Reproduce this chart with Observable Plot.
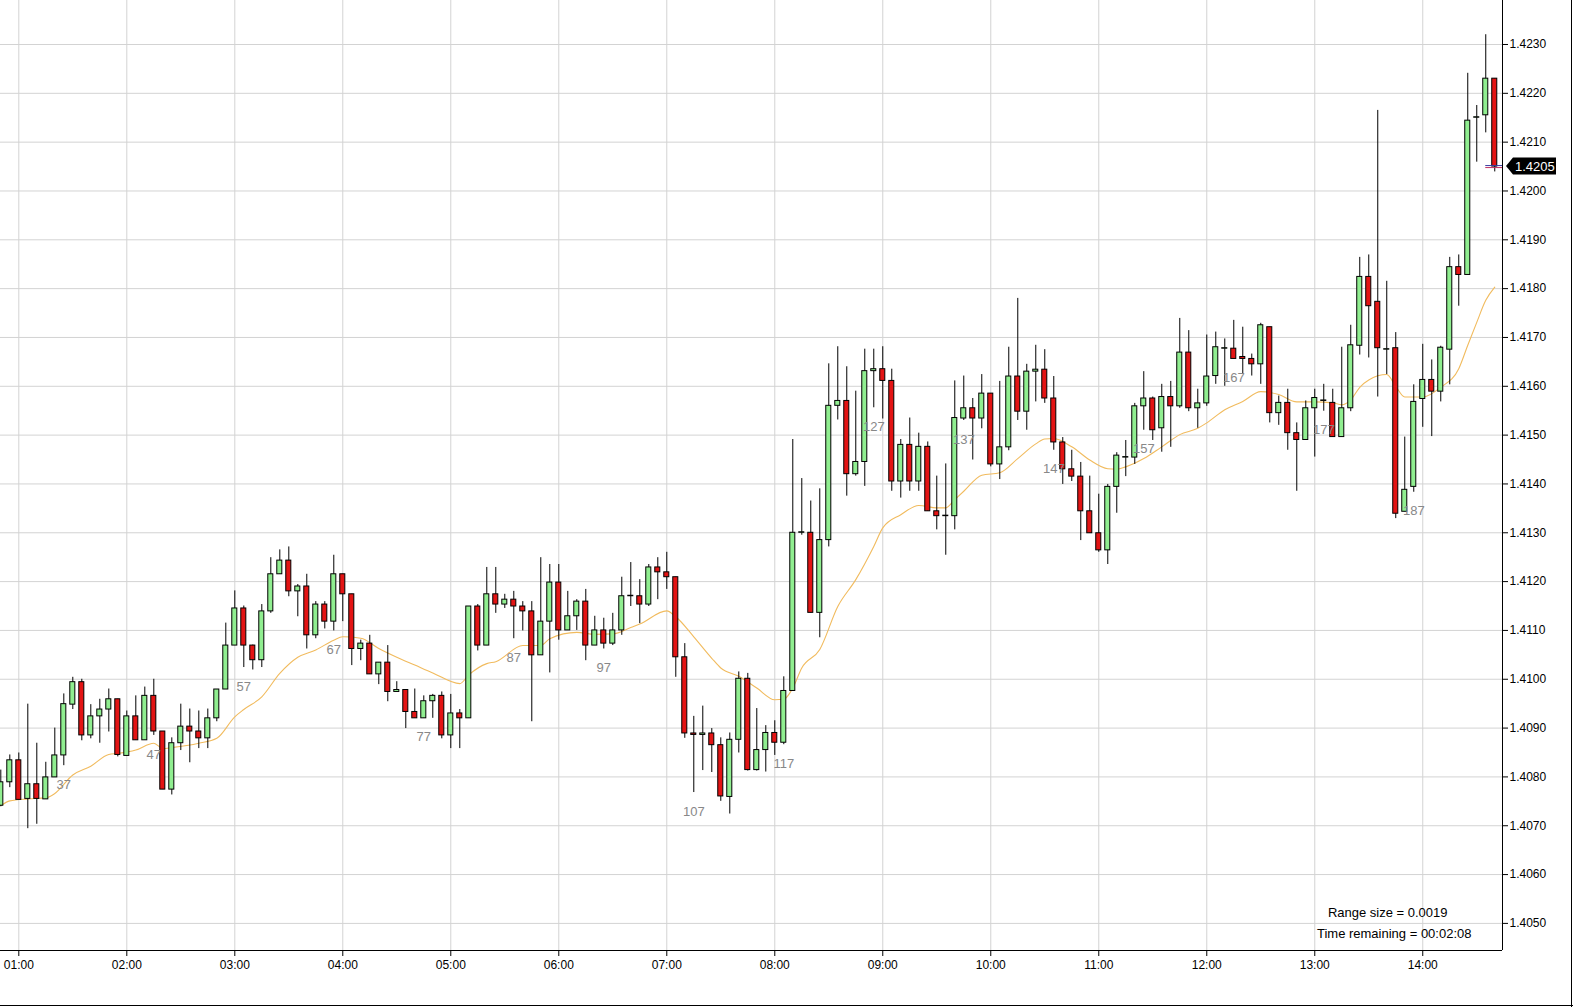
<!DOCTYPE html>
<html><head><meta charset="utf-8">
<script src="https://cdn.jsdelivr.net/npm/d3@7"></script>
<script src="https://cdn.jsdelivr.net/npm/@observablehq/plot@0.6"></script>
<style>
html,body{margin:0;padding:0;background:#fff;overflow:hidden}
#chart svg{display:block}
</style></head><body><div id="chart"></div>
<script>
// ---- data: 5-minute candles, bar #30 (00:50) to bar #196 (14:40) ----
const firstBarNumber = 30;
const firstBarMinute = 50;
const barMinutes = 5;

const open = [
1.40741,1.40789,1.40834,1.40755,1.40785,1.40754,1.40799,1.40844,1.40948,1.40994,
1.40885,1.40924,1.40938,1.40959,1.40843,1.40924,1.40875,1.40966,1.40893,1.40774,
1.40869,1.40903,1.40893,1.40879,1.40920,1.40979,1.41069,1.41145,1.41069,1.41039,
1.41139,1.41215,1.41243,1.41180,1.41190,1.41090,1.41153,1.41118,1.41215,1.41174,
1.41062,1.41073,1.41010,1.41034,1.40974,1.40978,1.40933,1.40920,1.40955,1.40966,
1.40885,1.40930,1.40920,1.41149,1.41069,1.41174,1.41153,1.41163,1.41149,1.41139,
1.41049,1.41118,1.41198,1.41100,1.41129,1.41159,1.41069,1.41100,1.41073,1.41100,
1.41170,1.41170,1.41153,1.41229,1.41219,1.41209,1.41045,1.40889,1.40886,1.40889,
1.40865,1.40759,1.40876,1.41001,1.40814,1.40855,1.40890,1.40870,1.40976,1.41300,
1.41300,1.41136,1.41285,1.41560,1.41570,1.41420,1.41445,1.41631,1.41635,1.41611,
1.41405,1.41480,1.41405,1.41476,1.41344,1.41334,1.41334,1.41534,1.41555,1.41534,
1.41585,1.41440,1.41475,1.41620,1.41548,1.41630,1.41634,1.41575,1.41485,1.41430,
1.41415,1.41344,1.41299,1.41264,1.41394,1.41454,1.41454,1.41559,1.41575,1.41514,
1.41578,1.41559,1.41669,1.41555,1.41565,1.41621,1.41677,1.41677,1.41660,1.41656,
1.41645,1.41721,1.41545,1.41566,1.41504,1.41490,1.41555,1.41570,1.41566,1.41496,
1.41555,1.41683,1.41824,1.41773,1.41675,1.41678,1.41343,1.41394,1.41574,1.41613,
1.41589,1.41675,1.41844,1.41828,1.42150,1.42155,1.42230];

const high = [
1.40814,1.40845,1.40849,1.40949,1.40869,1.40830,1.40900,1.40970,1.41004,1.41000,
1.40948,1.40959,1.40980,1.40959,1.40935,1.40966,1.40984,1.41000,1.40893,1.40880,
1.40949,1.40939,1.40935,1.40939,1.40979,1.41115,1.41181,1.41150,1.41070,1.41153,
1.41249,1.41265,1.41271,1.41194,1.41215,1.41159,1.41159,1.41254,1.41215,1.41174,
1.41080,1.41090,1.41034,1.41069,1.40995,1.40978,1.40980,1.40966,1.40969,1.40974,
1.40969,1.40938,1.41149,1.41153,1.41229,1.41229,1.41174,1.41180,1.41159,1.41159,
1.41249,1.41235,1.41235,1.41180,1.41163,1.41184,1.41129,1.41125,1.41135,1.41209,
1.41239,1.41204,1.41235,1.41249,1.41260,1.41209,1.41073,1.40924,1.40945,1.40899,
1.40880,1.40890,1.41015,1.41012,1.40940,1.40905,1.40915,1.41005,1.41491,1.41411,
1.41365,1.41390,1.41646,1.41681,1.41640,1.41590,1.41676,1.41676,1.41681,1.41635,
1.41491,1.41535,1.41504,1.41486,1.41416,1.41441,1.41611,1.41621,1.41575,1.41624,
1.41585,1.41610,1.41680,1.41780,1.41645,1.41684,1.41675,1.41620,1.41495,1.41469,
1.41444,1.41416,1.41379,1.41399,1.41464,1.41489,1.41565,1.41630,1.41578,1.41604,
1.41610,1.41739,1.41714,1.41594,1.41705,1.41711,1.41697,1.41735,1.41721,1.41666,
1.41729,1.41721,1.41580,1.41594,1.41525,1.41570,1.41594,1.41604,1.41594,1.41680,
1.41725,1.41864,1.41869,1.42165,1.41815,1.41710,1.41496,1.41603,1.41686,1.41654,
1.41682,1.41864,1.41869,1.42241,1.42175,1.42320,1.42230];

const low = [
1.40739,1.40778,1.40753,1.40694,1.40703,1.40754,1.40799,1.40823,1.40938,1.40874,
1.40878,1.40869,1.40892,1.40841,1.40843,1.40875,1.40875,1.40885,1.40774,1.40763,
1.40854,1.40829,1.40858,1.40858,1.40913,1.40979,1.41069,1.41024,1.41019,1.41024,
1.41135,1.41215,1.41169,1.41128,1.41062,1.41083,1.41103,1.41099,1.41118,1.41028,
1.41038,1.41010,1.40989,1.40954,1.40974,1.40899,1.40920,1.40920,1.40920,1.40878,
1.40858,1.40858,1.40920,1.41058,1.41069,1.41135,1.41145,1.41083,1.41099,1.40913,
1.41049,1.41013,1.41080,1.41100,1.41100,1.41038,1.41069,1.41062,1.41069,1.41090,
1.41149,1.41114,1.41149,1.41163,1.41184,1.41004,1.40879,1.40768,1.40813,1.40809,
1.40750,1.40724,1.40849,1.40812,1.40812,1.40810,1.40844,1.40866,1.40976,1.41295,
1.41136,1.41085,1.41271,1.41531,1.41375,1.41416,1.41395,1.41556,1.41533,1.41385,
1.41371,1.41385,1.41385,1.41344,1.41306,1.41254,1.41306,1.41530,1.41449,1.41513,
1.41435,1.41409,1.41468,1.41530,1.41510,1.41568,1.41565,1.41469,1.41399,1.41405,
1.41284,1.41299,1.41260,1.41235,1.41340,1.41415,1.41440,1.41510,1.41489,1.41465,
1.41475,1.41555,1.41548,1.41514,1.41559,1.41604,1.41600,1.41656,1.41625,1.41621,
1.41604,1.41525,1.41520,1.41469,1.41385,1.41490,1.41455,1.41549,1.41496,1.41496,
1.41548,1.41664,1.41658,1.41578,1.41624,1.41329,1.41343,1.41383,1.41516,1.41497,
1.41568,1.41603,1.41764,1.41828,1.42059,1.42119,1.42039];

const close = [
1.40789,1.40834,1.40753,1.40785,1.40755,1.40799,1.40844,1.40949,1.40994,1.40885,
1.40924,1.40938,1.40959,1.40845,1.40924,1.40875,1.40966,1.40893,1.40774,1.40869,
1.40903,1.40893,1.40879,1.40920,1.40979,1.41069,1.41145,1.41069,1.41039,1.41139,
1.41215,1.41243,1.41180,1.41190,1.41090,1.41153,1.41118,1.41215,1.41174,1.41062,
1.41073,1.41010,1.41034,1.40974,1.40978,1.40933,1.40920,1.40955,1.40966,1.40885,
1.40930,1.40920,1.41149,1.41069,1.41174,1.41153,1.41163,1.41149,1.41139,1.41049,
1.41118,1.41198,1.41100,1.41129,1.41159,1.41069,1.41100,1.41073,1.41100,1.41170,
1.41171,1.41153,1.41229,1.41219,1.41209,1.41045,1.40889,1.40886,1.40889,1.40865,
1.40760,1.40876,1.41001,1.40814,1.40855,1.40890,1.40870,1.40976,1.41300,1.41301,
1.41136,1.41285,1.41560,1.41570,1.41420,1.41445,1.41631,1.41635,1.41611,1.41405,
1.41480,1.41405,1.41476,1.41344,1.41334,1.41335,1.41535,1.41555,1.41534,1.41585,
1.41440,1.41475,1.41620,1.41548,1.41630,1.41634,1.41575,1.41485,1.41430,1.41415,
1.41344,1.41299,1.41264,1.41394,1.41458,1.41455,1.41559,1.41575,1.41510,1.41578,
1.41559,1.41669,1.41555,1.41565,1.41620,1.41680,1.41678,1.41656,1.41656,1.41645,
1.41725,1.41545,1.41566,1.41504,1.41490,1.41555,1.41576,1.41571,1.41496,1.41555,
1.41684,1.41824,1.41764,1.41678,1.41676,1.41339,1.41388,1.41568,1.41613,1.41589,
1.41679,1.41844,1.41828,1.42144,1.42151,1.42230,1.42050];

// moving average line (bar number -> value)
const maBar = [30,31,33,35,36,38,40,42,43,45,47,48,49,52,54,56,57,59,61,63,65,67,68,70,72,74,76,78,81,82,84,85,88,90,91,94,96,98,100,101,104,105,107,109,110,112,114,116,117,118,119,121,123,125,127,128,130,132,134,135,136,137,139,141,143,145,146,147,149,151,153,154,155,157,159,161,163,164,166,168,170,172,174,176,178,179,180,181,182,184,185,186,188,190,192,193,194,195,196];
const maValue = [1.40741,1.40751,1.40755,1.40757,1.40766,1.40804,1.40822,1.40846,1.40848,1.40855,1.40869,1.40858,1.40860,1.40869,1.40879,1.40923,1.40938,1.40964,1.41012,1.41045,1.41060,1.41080,1.41087,1.41084,1.41063,1.41045,1.41029,1.41013,1.40991,1.41009,1.41032,1.41036,1.41069,1.41069,1.41083,1.41096,1.41092,1.41093,1.41106,1.41113,1.41140,1.41128,1.41087,1.41043,1.41023,1.41006,1.40982,1.40958,1.40959,1.40982,1.41023,1.41061,1.41149,1.41204,1.41272,1.41310,1.41337,1.41356,1.41351,1.41351,1.41368,1.41385,1.41418,1.41423,1.41452,1.41482,1.41492,1.41493,1.41476,1.41449,1.41431,1.41430,1.41435,1.41452,1.41476,1.41501,1.41514,1.41525,1.41552,1.41569,1.41589,1.41583,1.41568,1.41568,1.41566,1.41562,1.41572,1.41598,1.41613,1.41624,1.41600,1.41578,1.41578,1.41598,1.41636,1.41684,1.41731,1.41776,1.41803];

const hourTicks = [60,120,180,240,300,360,420,480,540,600,660,720,780,840];
const priceTicks = [1.405,1.406,1.407,1.408,1.409,1.410,1.411,1.412,1.413,1.414,1.415,1.416,1.417,1.418,1.419,1.420,1.421,1.422,1.423];
const lastPrice = 1.4205;
const infoLines = ["Range size = 0.0019", "Time remaining = 00:02:08"];

// ---- build tables ----
const bars = open.map((o, i) => ({
  n: firstBarNumber + i,
  t: firstBarMinute + barMinutes * i,
  o, h: high[i], l: low[i], c: close[i]
}));
const ma = maBar.map((n, i) => ({t: firstBarMinute + barMinutes * (n - firstBarNumber), v: maValue[i]}));
const xDomain = [49.83, 884.3];
const yDomain = [1.404445, 1.423901];
const fmtTime = m => String(Math.floor(m / 60)).padStart(2, "0") + ":" + String(m % 60).padStart(2, "0");
const up = "#90ee90", down = "#e31414";
const prevBar = bars[bars.length - 2];

const plot = Plot.plot({
  width: 1573, height: 1007,
  marginLeft: 0, marginRight: 71, marginTop: 0, marginBottom: 57,
  style: {fontFamily: "'Liberation Sans', Arial, sans-serif", fontSize: "12px", background: "#fff", color: "#000"},
  x: {domain: xDomain, ticks: hourTicks, tickFormat: fmtTime, tickSize: 6, tickPadding: 4, label: null},
  y: {domain: yDomain, axis: "right", ticks: priceTicks, tickFormat: d => d.toFixed(4), tickSize: 5, tickPadding: 2, label: null},
  marks: [
    Plot.ruleX(hourTicks, {stroke: "#d3d3d3"}),
    Plot.ruleY(priceTicks, {stroke: "#d3d3d3"}),
    Plot.line(ma, {x: "t", y: "v", stroke: "#f1bb5e", strokeWidth: 1.1, curve: "monotone-x"}),
    Plot.ruleX(bars, {x: "t", y1: "l", y2: "h", stroke: "#000", strokeWidth: 1}),
    Plot.rect(bars, {x1: d => d.t - 1.4, x2: d => d.t + 1.4, y1: "o", y2: "c",
      fill: d => d.c >= d.o ? up : down, stroke: "#000", strokeWidth: 1}),
    Plot.text(bars.filter(d => d.n % 10 === 7), {x: "t", y: "l", text: d => String(d.n), dy: 19, fill: "#888", fontSize: 13}),
    Plot.ruleY([lastPrice], {x1: prevBar.t, x2: xDomain[1], stroke: "#3a3aa0", dy: -1}),
    Plot.ruleY([lastPrice], {x1: prevBar.t, x2: xDomain[1], stroke: "#c03060", dy: 1}),
    Plot.ruleY([yDomain[0]], {stroke: "#000"}),
    Plot.ruleX([xDomain[1]], {stroke: "#000"}),
    Plot.text([infoLines[0]], {frameAnchor: "bottom-right", dx: -55, dy: -34, textAnchor: "end", fill: "#000", fontSize: 13}),
    Plot.text([infoLines[1]], {frameAnchor: "bottom-right", dx: -31, dy: -13, textAnchor: "end", fill: "#000", fontSize: 13})
  ]
});
document.getElementById("chart").appendChild(plot);

// price tag on the right axis, positioned with the plot's scales
const svg = d3.select(plot);
const yc = plot.scale("y").apply(lastPrice);
const xa = plot.scale("x").apply(xDomain[1]);
svg.append("path")
  .attr("d", `M${xa + 4},${yc} L${xa + 11},${yc - 8.5} H${xa + 54} V${yc + 8.5} H${xa + 11} Z`)
  .attr("fill", "#000");
svg.append("text")
  .attr("x", xa + 13).attr("y", yc).attr("dy", "0.35em")
  .attr("text-anchor", "start")
  .attr("fill", "#fff").attr("font-size", 13)
  .text(lastPrice.toFixed(4));
// outer border of the chart window
svg.append("line").attr("x1", 0).attr("x2", 1573).attr("y1", 1005.5).attr("y2", 1005.5).attr("stroke", "#000");
svg.append("line").attr("x1", 1571.5).attr("x2", 1571.5).attr("y1", 0).attr("y2", 1007).attr("stroke", "#000");
</script>
</body></html>
